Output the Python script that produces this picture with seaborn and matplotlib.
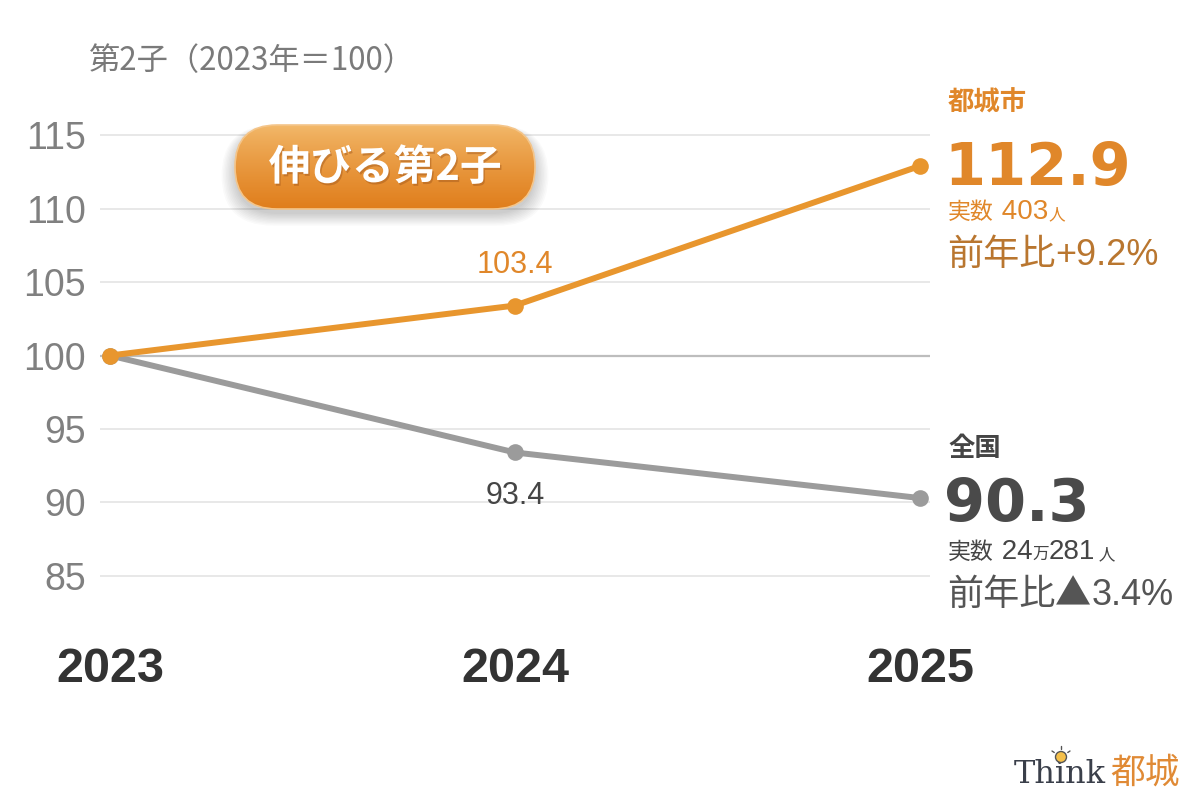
import numpy as np
import pandas as pd
import matplotlib
matplotlib.use('Agg')
import matplotlib.pyplot as plt
import matplotlib.patheffects as pe
from matplotlib.patches import FancyBboxPatch, Circle
import seaborn as sns

# data
years = [2023, 2024, 2025]
miyakonojo = [100, 103.4, 112.9]
national = [100, 93.4, 90.3]
yticks = [85, 90, 95, 100, 105, 110, 115]
series_names = ['全国', '都城市']

ORANGE = '#E8962E'
ORANGE_TXT = '#E0872A'
BROWN = '#B9762F'
GRAY_LINE = '#9B9B9B'
DARK = '#454545'

sns.set_theme(style='white')
plt.rcParams['font.family'] = ['Liberation Sans', 'Noto Sans CJK JP', 'DejaVu Sans']
JP = ['Noto Sans CJK JP', 'DejaVu Sans']

df = pd.DataFrame({
    'year': years * 2,
    'value': national + miyakonojo,
    'series': [series_names[0]] * 3 + [series_names[1]] * 3,
})

fig = plt.figure(figsize=(12, 8), dpi=100)
fig.patch.set_facecolor('white')

ax = fig.add_axes([100 / 1200, 1 - 598 / 800, 830 / 1200, 485 / 800])
ax.set_facecolor('none')
for ref in yticks:
    if ref == 100:
        ax.axhline(ref, color='#BDBDBD', lw=1.6, zorder=1)
    else:
        ax.axhline(ref, color='#E6E6E6', lw=1.3, zorder=1)

sns.lineplot(data=df, x='year', y='value', hue='series', hue_order=series_names,
             palette=[GRAY_LINE, ORANGE], marker='o', markersize=12,
             markeredgewidth=0, linewidth=4.3, legend=False, ax=ax, zorder=3)

ax.set_xlim(2023 - 0.0247, 2025 + 0.0247)
ax.set_ylim(83.5, 116.5)
ax.set_yticks(yticks)
ax.set_yticklabels([str(v) for v in yticks], fontsize=27, color='#808080')
ax.set_xticks(years)
ax.set_xticklabels([str(y) for y in years], fontsize=35, fontweight='bold', color='#333333')
ax.tick_params(axis='y', length=0, pad=10)
ax.tick_params(axis='x', length=0, pad=35)
ax.set_xlabel('')
ax.set_ylabel('')
for s in ax.spines.values():
    s.set_visible(False)
ax.grid(False)

# mid-point value labels
ax.annotate(f'{miyakonojo[1]:.1f}', (years[1], miyakonojo[1]), xytext=(0, 29.5),
            textcoords='offset points', ha='center', va='center',
            fontsize=22, color=ORANGE_TXT)
ax.annotate(f'{national[1]:.1f}', (years[1], national[1]), xytext=(0, -31),
            textcoords='offset points', ha='center', va='center',
            fontsize=22, color=DARK)

# overlay in pixel coordinates
ov = fig.add_axes([0, 0, 1, 1], zorder=5)
ov.set_xlim(0, 1200)
ov.set_ylim(800, 0)
ov.axis('off')
ov.patch.set_alpha(0)

ov.text(89, 61, '第2子（2023年＝100）', fontsize=22.5, color='#7A7A7A',
        family=JP, va='center', ha='left')

renderer = fig.canvas.get_renderer()


def run_text(x, y, pieces):
    for s, size, weight, color, fam in pieces:
        t = ov.text(x, y, s, fontsize=size, fontweight=weight, color=color,
                    va='baseline', ha='left', family=fam)
        x += t.get_window_extent(renderer).width


BIG = ['DejaVu Sans']
NUM = ['Liberation Sans', 'Noto Sans CJK JP']

# 都城市 block
ov.text(948, 103, '都城市', fontsize=19, fontweight='bold', color=ORANGE_TXT,
        family=JP, va='center', ha='left')
run_text(944, 185, [(f'{miyakonojo[2]:.1f}', 42.5, 'bold', ORANGE_TXT, BIG)])
run_text(948, 219, [('実数', 16.5, 'normal', ORANGE_TXT, JP),
                    (' 403', 20, 'normal', ORANGE_TXT, NUM),
                    ('人', 12, 'normal', ORANGE_TXT, JP)])
run_text(947, 265, [('前年比', 26, 'normal', BROWN, JP),
                    ('+9.2%', 26, 'normal', BROWN, NUM)])

# 全国 block
ov.text(948, 448, '全国', fontsize=19, fontweight='bold', color=DARK,
        family=JP, va='center', ha='left')
run_text(944, 521, [(f'{national[2]:.1f}', 42.5, 'bold', '#4A4A4A', BIG)])
run_text(948, 559, [('実数', 16.5, 'normal', DARK, JP),
                    (' 24', 20, 'normal', DARK, NUM),
                    ('万', 12, 'normal', DARK, JP),
                    ('281', 20, 'normal', DARK, NUM),
                    (' 人', 12, 'normal', DARK, JP)])
run_text(947, 605, [('前年比', 26, 'normal', '#555555', JP),
                    ('▲', 26, 'normal', '#555555', JP),
                    ('3.4%', 26, 'normal', '#555555', NUM)])

# badge
bx0, by0, bw, bh = 235, 125, 300, 84
for i in range(10):
    sh = FancyBboxPatch((bx0 - i * 1.5, by0 + 5 - i * 0.5), bw + i * 3, bh + i * 1.8,
                        boxstyle=f'round,pad=0,rounding_size={bh / 2 + i}',
                        fc='black', ec='none', alpha=0.02, zorder=1)
    ov.add_patch(sh)
pill = FancyBboxPatch((bx0, by0), bw, bh, boxstyle=f'round,pad=0,rounding_size={bh / 2}',
                      fc='none', ec='#F4C58A', lw=1.2, zorder=3)
ov.add_patch(pill)
top = np.array(matplotlib.colors.to_rgb('#F3BA6C'))
bot = np.array(matplotlib.colors.to_rgb('#E07E1C'))
tt = np.linspace(0, 1, 100)[:, None]
grad = (top * (1 - tt ** 0.8) + bot * tt ** 0.8)[:, None, :].repeat(2, axis=1)
im = ov.imshow(grad, extent=(bx0, bx0 + bw, by0 + bh, by0), aspect='auto', zorder=2,
               interpolation='bilinear')
im.set_clip_path(pill)
ov.text(bx0 + bw / 2, by0 + bh / 2 + 1, '伸びる第2子', fontsize=30, fontweight='bold',
        color='white', family=JP, ha='center', va='center', zorder=4,
        path_effects=[pe.withSimplePatchShadow(offset=(1, -1.5), shadow_rgbFace='#A0561A', alpha=0.45)])

# logo
ov.text(1014, 783, 'Think', fontsize=23, color='#3A3F4A', family=['DejaVu Serif'],
        va='baseline', ha='left')
ov.text(1110, 783, '都城', fontsize=25, color='#E08A35', family=JP,
        va='baseline', ha='left')
ov.add_patch(Circle((1061, 757), 5.5, fc='#F5C04A', ec='#555555', lw=1, zorder=3))
for dx, dy in [(-9, -6), (0, -11), (9, -6)]:
    ov.plot([1061 + dx * 0.75, 1061 + dx], [757 + dy * 0.75, 757 + dy], color='#555555', lw=1)

ov.set_xlim(0, 1200)
ov.set_ylim(800, 0)

fig.savefig('out.png', dpi=100, facecolor='white')
